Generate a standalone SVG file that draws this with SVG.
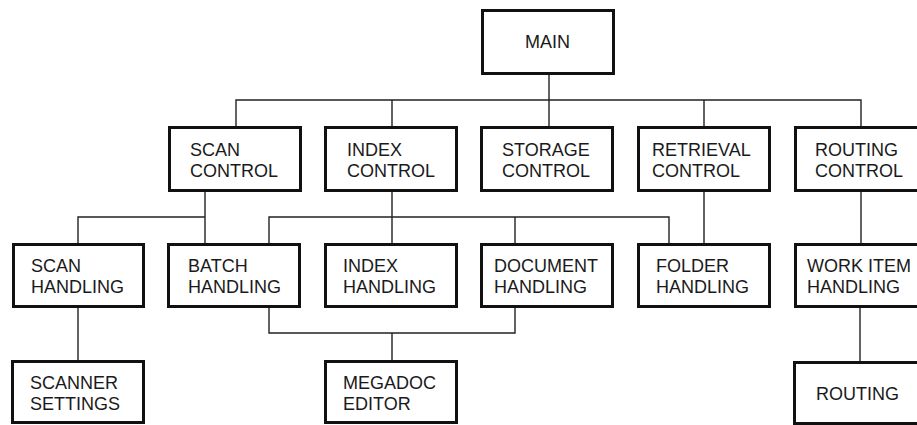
<svg xmlns="http://www.w3.org/2000/svg" width="917" height="425" viewBox="0 0 917 425">
<style>
.box{fill:#fff;stroke:#111;stroke-width:3}
.lbl{font-family:"Liberation Sans",Arial,sans-serif;font-size:18px;fill:#1a1a1a}
.con{stroke:#222;stroke-width:1.4;fill:none}
</style>
<rect width="917" height="425" fill="#fff"/>
<g id="connectors">
<path class="con" d="M549 75V126M236 126V100H861V126M392 100V126M704 100V126"/>
<path class="con" d="M205 192V243M78 243V217H205"/>
<path class="con" d="M392 192V243M269 243V217H669V243M515 217V243"/>
<path class="con" d="M704 192V243M861 192V243"/>
<path class="con" d="M78 308V360M269 308V333H515V308M392 333V360M860 308V361"/>
</g>
<g id="main"><rect class="box" x="482.5" y="10.5" width="131" height="63"/><text class="lbl" x="525" y="48">MAIN</text></g>
<g id="scan-control"><rect class="box" x="169.5" y="127.5" width="131" height="63"/><text class="lbl" x="190" y="156">SCAN</text><text class="lbl" x="190" y="177">CONTROL</text></g>
<g id="index-control"><rect class="box" x="325.5" y="127.5" width="131" height="63"/><text class="lbl" x="347" y="156">INDEX</text><text class="lbl" x="347" y="177">CONTROL</text></g>
<g id="storage-control"><rect class="box" x="481.5" y="127.5" width="131" height="63"/><text class="lbl" x="502" y="156">STORAGE</text><text class="lbl" x="502" y="177">CONTROL</text></g>
<g id="retrieval-control"><rect class="box" x="638.5" y="127.5" width="131" height="63"/><text class="lbl" x="652" y="156">RETRIEVAL</text><text class="lbl" x="652" y="177">CONTROL</text></g>
<g id="routing-control"><rect class="box" x="795.5" y="127.5" width="131" height="63"/><text class="lbl" x="815" y="156">ROUTING</text><text class="lbl" x="815" y="177">CONTROL</text></g>
<g id="scan-handling"><rect class="box" x="13.5" y="244.5" width="130" height="62"/><text class="lbl" x="31" y="272">SCAN</text><text class="lbl" x="31" y="293">HANDLING</text></g>
<g id="batch-handling"><rect class="box" x="168.5" y="244.5" width="131" height="62"/><text class="lbl" x="188" y="272">BATCH</text><text class="lbl" x="188" y="293">HANDLING</text></g>
<g id="index-handling"><rect class="box" x="325.5" y="244.5" width="131" height="62"/><text class="lbl" x="343" y="272">INDEX</text><text class="lbl" x="343" y="293">HANDLING</text></g>
<g id="document-handling"><rect class="box" x="481.5" y="244.5" width="131" height="62"/><text class="lbl" x="494" y="272">DOCUMENT</text><text class="lbl" x="494" y="293">HANDLING</text></g>
<g id="folder-handling"><rect class="box" x="638.5" y="244.5" width="131" height="62"/><text class="lbl" x="656" y="272">FOLDER</text><text class="lbl" x="656" y="293">HANDLING</text></g>
<g id="work-item-handling"><rect class="box" x="795.5" y="244.5" width="131" height="62"/><text class="lbl" x="807" y="272">WORK ITEM</text><text class="lbl" x="807" y="293">HANDLING</text></g>
<g id="scanner-settings"><rect class="box" x="12.5" y="361.5" width="131" height="61"/><text class="lbl" x="30" y="389">SCANNER</text><text class="lbl" x="30" y="410">SETTINGS</text></g>
<g id="megadoc-editor"><rect class="box" x="325.5" y="361.5" width="131" height="61"/><text class="lbl" x="343" y="389">MEGADOC</text><text class="lbl" x="343" y="410">EDITOR</text></g>
<g id="routing"><rect class="box" x="794.5" y="362.5" width="131" height="61"/><text class="lbl" x="816" y="400">ROUTING</text></g>
</svg>
